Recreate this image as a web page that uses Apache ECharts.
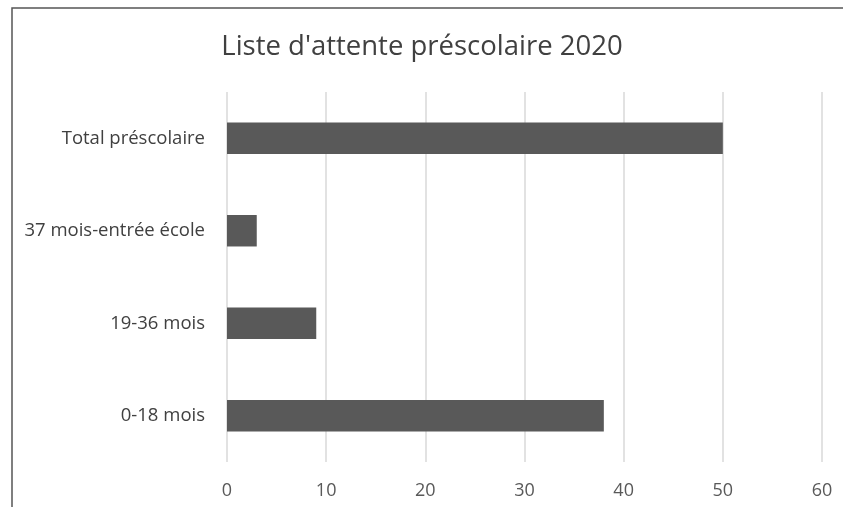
<!DOCTYPE html>
<html>
<head>
<meta charset="utf-8">
<script src="https://cdn.jsdelivr.net/npm/echarts@6/dist/echarts.min.js"></script>
<style>
  html, body { margin: 0; padding: 0; background: #fff; }
  #chart { width: 843px; height: 507px; }
</style>
</head>
<body>
<div id="chart"></div>
<script>
var categories = ["0-18 mois", "19-36 mois", "37 mois-entrée école", "Total préscolaire"];
var values = [38, 9, 3, 50];
var xTicks = [0, 60, 10];

var myChart = echarts.init(document.getElementById("chart"));

var option = {
  animation: false,
  backgroundColor: "#ffffff",
  textStyle: { fontFamily: "Open Sans" },
  title: {
    text: "Liste d'attente préscolaire 2020",
    left: 417,
    textAlign: "center",
    top: 28,
    textStyle: { fontFamily: "Open Sans", fontSize: 27.5, fontWeight: "normal", color: "#404040" },
  },
  // chart frame, only the left and top edges are visible in the crop
  graphic: [
    {
      type: "polyline",
      shape: { points: [[12, 520], [12, 8], [850, 8]] },
      style: { fill: null, stroke: "#555555", lineWidth: 1.5 },
      silent: true,
    },
  ],
  grid: { left: 227, right: 21, top: 92, bottom: 45 },
  xAxis: {
    type: "value",
    min: xTicks[0],
    max: xTicks[1],
    interval: xTicks[2],
    axisLine: { show: false },
    axisTick: { show: false },
    splitLine: { lineStyle: { color: "#d9d9d9", width: 1.5 } },
    axisLabel: { color: "#595959", fontSize: 18, margin: 20 },
  },
  yAxis: {
    type: "category",
    data: categories,
    axisLine: { show: false },
    axisTick: { show: false },
    axisLabel: { color: "#404040", fontSize: 18.5, margin: 22 },
  },
  series: [
    {
      type: "bar",
      data: values,
      barWidth: "34%",
      itemStyle: { color: "#595959" },
    },
  ],
};

myChart.setOption(option);
</script>
</body>
</html>
